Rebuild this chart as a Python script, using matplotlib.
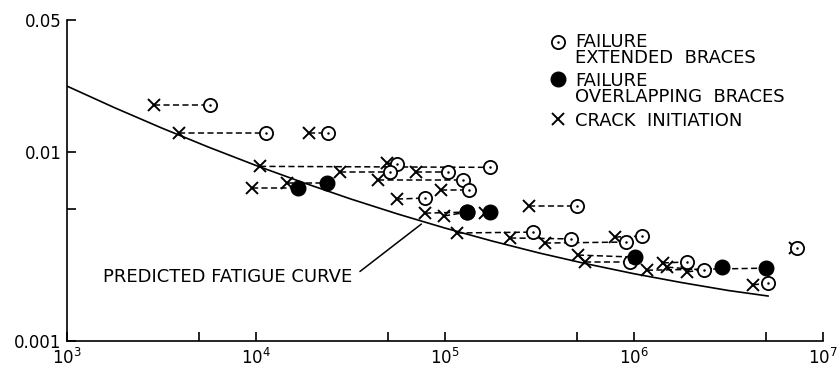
import matplotlib
matplotlib.use("Agg")
import matplotlib.pyplot as plt
from matplotlib.ticker import NullLocator

plt.rcParams['font.family'] = ['DejaVu Sans']
plt.rcParams['mathtext.fontset'] = 'dejavusans'

# ---- data (cycles N, strain range) ----
# extended braces: crack initiation -> failure
ext_crack_n = [2.9e3, 3.9e3, 1.9e4, 1.05e4, 4.93e4, 2.78e4, 7.0e4, 4.42e4, 9.5e4, 5.57e4,
               2.78e5, 1.157e5, 2.21e5, 3.38e5, 7.93e5, 5.5e5, 1.42e6, 1.5e6, 4.26e6, 7.1e6]
ext_crack_s = [0.0177, 0.0126, 0.0126, 0.0084, 0.00875, 0.00784, 0.00784, 0.00711, 0.0063, 0.00564,
               0.00518, 0.00373, 0.00351, 0.0033, 0.00355, 0.00262, 0.00259, 0.00246, 0.00198, 0.0031]
ext_fail_n = [5.7e3, 1.13e4, 2.4e4, 1.73e5, 5.57e4, 5.12e4, 1.04e5, 1.245e5, 1.34e5, 7.84e4,
              4.99e5, 2.92e5, 4.64e5, 9.07e5, 1.10e6, 9.52e5, 1.91e6, 2.35e6, 5.12e6, 7.3e6]
ext_fail_s = [0.0177, 0.0126, 0.0126, 0.0083, 0.00864, 0.00784, 0.00784, 0.00711, 0.0063, 0.00571,
              0.00518, 0.00377, 0.00347, 0.00334, 0.00359, 0.00262, 0.00262, 0.00237, 0.00203, 0.0031]

# overlapping braces: crack initiation -> failure
ovl_crack_n = [9.5e3, 1.46e4, 7.84e4, 9.88e4, 1.63e5, 5.05e5, 1.17e6, 1.91e6]
ovl_crack_s = [0.00645, 0.00686, 0.00475, 0.00459, 0.00475, 0.00285, 0.00237, 0.00232]
ovl_fail_n = [1.67e4, 2.38e4, 1.31e5, 1.31e5, 1.73e5, 1.01e6, 5.0e6, 2.92e6]
ovl_fail_s = [0.00645, 0.00686, 0.00481, 0.00481, 0.00481, 0.00278, 0.00243, 0.00246]

# predicted fatigue curve
curve_n = [1e3, 1.778e3, 3.162e3, 5.623e3, 1e4, 1.778e4, 3.162e4, 5.623e4, 1e5, 1.778e5,
           3.162e5, 5.623e5, 1e6, 1.778e6, 3.162e6, 5.12e6]
curve_s = [0.02234, 0.01720, 0.01342, 0.01061, 0.00849, 0.00689, 0.00565, 0.00470, 0.00396, 0.00338,
           0.00292, 0.00256, 0.00227, 0.00204, 0.00185, 0.00173]

x_ticks = [1e3, 5e3, 1e4, 5e4, 1e5, 5e5, 1e6, 5e6, 1e7]
x_tick_labels = ['10$^{3}$', '', '10$^{4}$', '', '10$^{5}$', '', '10$^{6}$', '', '10$^{7}$']
y_ticks = [0.001, 0.005, 0.01, 0.05]
y_tick_labels = ['0.001', '', '0.01', '0.05']

legend_labels = ['FAILURE\nEXTENDED  BRACES', 'FAILURE\nOVERLAPPING  BRACES', 'CRACK  INITIATION']

# ---- figure ----
fig = plt.figure(figsize=(8.39, 3.71), dpi=100)
ax = fig.add_axes([67 / 839, 30 / 371, 756 / 839, 321 / 371])
ax.set_xscale('log')
ax.set_yscale('log')
ax.set_xlim(1e3, 1e7)
ax.set_ylim(1e-3, 5e-2)
for s in ('top', 'right'):
    ax.spines[s].set_visible(False)
for s in ('left', 'bottom'):
    ax.spines[s].set_linewidth(1.2)

ax.set_xticks(x_ticks)
ax.set_xticklabels(x_tick_labels)
ax.set_yticks(y_ticks)
ax.set_yticklabels(y_tick_labels)
ax.xaxis.set_minor_locator(NullLocator())
ax.yaxis.set_minor_locator(NullLocator())
ax.tick_params(axis='both', direction='in', length=6.5, width=1.2, labelsize=12)
ax.tick_params(axis='x', pad=5)
ax.tick_params(axis='y', pad=4)

# fatigue curve
ax.plot(curve_n, curve_s, color='black', lw=1.2, zorder=2)

dash_kw = dict(color='black', lw=1.1, linestyle=(0, (4.0, 2.2)), zorder=3)
ms_open = 9.5
ms_fill = 10.5

for cn, cs, fn, fs in zip(ext_crack_n, ext_crack_s, ext_fail_n, ext_fail_s):
    ax.plot([cn, fn], [cs, fs], **dash_kw)
for cn, cs, fn, fs in zip(ovl_crack_n, ovl_crack_s, ovl_fail_n, ovl_fail_s):
    ax.plot([cn, fn], [cs, fs], **dash_kw)

ax.plot(ext_crack_n, ext_crack_s, 'x', color='black', ms=8, mew=1.4, zorder=4, linestyle='none')
ax.plot(ovl_crack_n, ovl_crack_s, 'x', color='black', ms=8, mew=1.4, zorder=4, linestyle='none')
ax.plot(ext_fail_n, ext_fail_s, 'o', mfc='white', mec='black', ms=ms_open, mew=1.3, zorder=5, linestyle='none')
ax.plot(ext_fail_n, ext_fail_s, '.', color='black', ms=1.6, zorder=6, linestyle='none')
ax.plot(ovl_fail_n, ovl_fail_s, 'o', mfc='black', mec='black', ms=ms_fill, zorder=5, linestyle='none')

# annotation
ax.annotate('PREDICTED FATIGUE CURVE', xy=(7.5e4, 0.00416), xytext=(3.25e4, 0.00218),
            ha='right', va='center', fontsize=13,
            arrowprops=dict(arrowstyle='-', color='black', lw=1.1, shrinkA=4, shrinkB=0,
                            relpos=(1.0, 0.5)))

# legend (manual)
mx, tx = 0.6495, 0.672
marker_y = [0.9315, 0.8162, 0.6916]
base_y = [0.8645, 0.7430, 0.6713]   # baseline of the last line of each entry
tkw = dict(transform=ax.transAxes, fontsize=13, va='baseline', ha='left', linespacing=0.88)
ax.plot([mx], [marker_y[0]], 'o', mfc='white', mec='black', ms=ms_open, mew=1.3,
        transform=ax.transAxes, clip_on=False)
ax.plot([mx], [marker_y[0]], '.', color='black', ms=1.6, transform=ax.transAxes, clip_on=False)
ax.plot([mx], [marker_y[1]], 'o', mfc='black', mec='black', ms=ms_fill,
        transform=ax.transAxes, clip_on=False)
ax.plot([mx], [marker_y[2]], 'x', color='black', ms=8, mew=1.4, transform=ax.transAxes, clip_on=False)
for lbl, by in zip(legend_labels, base_y):
    ax.text(tx, by, lbl, **tkw)

fig.savefig('out.png', dpi=100)
